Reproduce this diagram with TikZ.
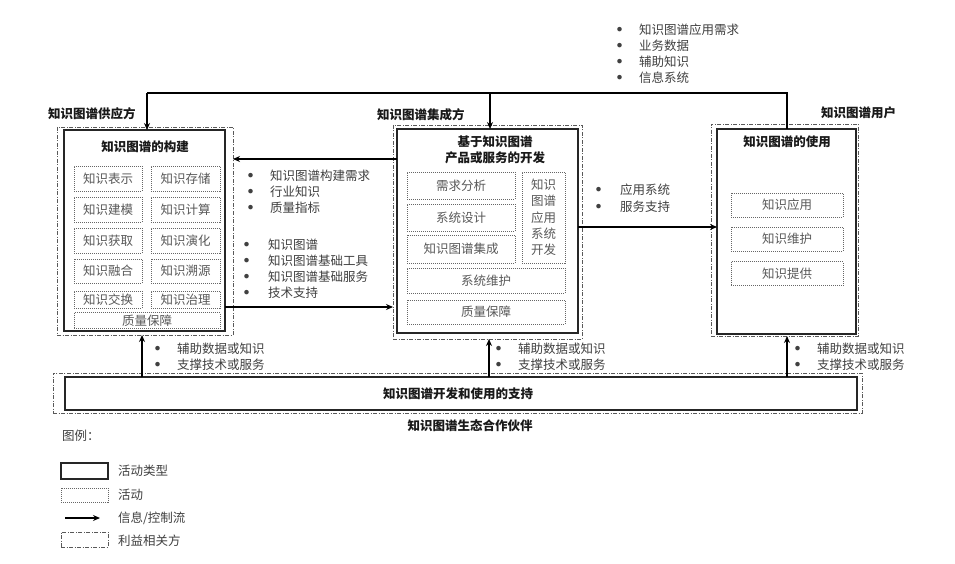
\documentclass[tikz,border=0pt]{standalone}
\usepackage{fontspec}
\newfontfamily\cjk{Noto Sans CJK SC}
\usetikzlibrary{arrows.meta}
\newcommand\mkb[2]{\makebox[#1pt][l]{\raisebox{2.6pt}{\fontsize{5}{5}\selectfont ●}}#2}
\begin{document}
\begin{tikzpicture}[x=1pt,y=-1pt,
  every node/.style={font=\cjk\fontsize{12.5}{16}\selectfont, inner sep=0pt, outer sep=0pt},
  acttype/.style={draw=black!85, line width=1.3pt, rectangle},
  act/.style={draw=black!60, line width=0.9pt, dash pattern=on 1pt off 1pt, text=black!65},
  party/.style={draw=black!65, line width=0.8pt, dash pattern=on 4pt off 1.5pt on 1pt off 1.5pt},
  flow/.style={line width=1.6pt, -{Stealth[length=7pt,width=6pt]}},
  ttl/.style={font=\cjk\bfseries\fontsize{12.5}{16}\selectfont, text=black!90},
  txt/.style={text=black!75, align=left, anchor=north west},
  ]
\fill[white] (0,0) rectangle (955,564);
\useasboundingbox (0,0) rectangle (955,564);

% ---------- supplier ----------
\node[party, minimum width=176, minimum height=208] (supo) at (145,231) {};
\node[acttype, minimum width=161, minimum height=201] (supin) at (144.5,230.5) {};
\node[ttl, anchor=west] (supl) at (48,114) {知识图谱供应方};
\node[ttl] (supt) at (145,147) {知识图谱的构建};
\node[act, minimum width=68, minimum height=25] (s11) at (108,178.5) {知识表示};
\node[act, minimum width=69, minimum height=25] (s12) at (185.5,178.5) {知识存储};
\node[act, minimum width=68, minimum height=25] (s21) at (108,209.5) {知识建模};
\node[act, minimum width=69, minimum height=25] (s22) at (185.5,209.5) {知识计算};
\node[act, minimum width=68, minimum height=25] (s31) at (108,240.5) {知识获取};
\node[act, minimum width=69, minimum height=25] (s32) at (185.5,240.5) {知识演化};
\node[act, minimum width=68, minimum height=24] (s41) at (108,271) {知识融合};
\node[act, minimum width=69, minimum height=24] (s42) at (185.5,271) {知识溯源};
\node[act, minimum width=68, minimum height=17] (s51) at (108,299.5) {知识交换};
\node[act, minimum width=69, minimum height=17] (s52) at (185.5,299.5) {知识治理};
\node[act, minimum width=146, minimum height=16] (s6) at (147,320.5) {质量保障};

% ---------- integrator ----------
\node[party, minimum width=189, minimum height=214] (into) at (487.5,232) {};
\node[acttype, minimum width=181, minimum height=204] (intin) at (487.5,231) {};
\node[ttl, anchor=west] (intl) at (377,115) {知识图谱集成方};
\node[ttl, align=center] (intt) at (495,150) {基于知识图谱\\产品或服务的开发};
\node[act, minimum width=108, minimum height=27] (i1) at (461,185.5) {需求分析};
\node[act, minimum width=108, minimum height=27] (i2) at (461,217.5) {系统设计};
\node[act, minimum width=108, minimum height=28] (i3) at (461,249) {知识图谱集成};
\node[act, minimum width=43, minimum height=91, align=center, font=\cjk\fontsize{12.5}{16.3}\selectfont] (i4) at (543.5,217.5) {知识\\图谱\\应用\\系统\\开发};
\node[act, minimum width=158, minimum height=25] (i5) at (486,280.5) {系统维护};
\node[act, minimum width=158, minimum height=24] (i6) at (486,312) {质量保障};

% ---------- user ----------
\node[party, minimum width=147, minimum height=212] (useo) at (784.5,230) {};
\node[acttype, minimum width=139, minimum height=205] (usein) at (786.5,231.5) {};
\node[ttl, anchor=west] (usel) at (821,113) {知识图谱用户};
\node[ttl] (uset) at (787,142) {知识图谱的使用};
\node[act, minimum width=112, minimum height=24] (u1) at (787,205) {知识应用};
\node[act, minimum width=112, minimum height=24] (u2) at (787,239) {知识维护};
\node[act, minimum width=112, minimum height=24] (u3) at (787,273.5) {知识提供};

% ---------- support ----------
\node[party, minimum width=809, minimum height=40] (supp) at (457.5,393) {};
\node[acttype, minimum width=792, minimum height=33] (suppin) at (461,393.5) {};
\node[ttl] (suppt) at (458,394) {知识图谱开发和使用的支持};
\node[ttl] (suppl) at (470,426) {知识图谱生态合作伙伴};

% ---------- coordinates ----------
\coordinate (ytop) at (0,93);
\coordinate (ya) at (0,159);
\coordinate (yb) at (0,307);
\coordinate (yc) at (0,227);
\coordinate (xs) at (147,0);
\coordinate (xi) at (490,0);
\coordinate (xu) at (787,0);
\coordinate (xbs) at (142,0);
\coordinate (xbi) at (489,0);

% ---------- flows ----------
\draw[line width=1.6pt] (usein.north -| xu) -- (xu |- ytop) -- (xs |- ytop);
\draw[flow] (xs |- ytop) -- (supin.north -| xs);
\draw[flow] (xi |- ytop) -- (intin.north -| xi);
\draw[flow] (intin.west |- ya) -- (supo.east |- ya);
\draw[flow] (supin.east |- yb) -- (into.west |- yb);
\draw[flow] (intin.east |- yc) -- (usein.west |- yc);
\draw[flow] (suppin.north -| xbs) -- (supo.south -| xbs);
\draw[flow] (suppin.north -| xbi) -- (into.south -| xbi);
\draw[flow] (suppin.north -| xu) -- (useo.south -| xu);

% ---------- bullet texts ----------
\node[txt] (btop) at (617,23.5) {\mkb{22}{知识图谱应用需求}\\\mkb{22}{业务数据}\\\mkb{22}{辅助知识}\\\mkb{22}{信息系统}};
\node[txt] (b1) at (248,169.5) {\mkb{22}{知识图谱构建需求}\\\mkb{22}{行业知识}\\\mkb{22}{质量指标}};
\node[txt] (b2) at (244,238.5) {\mkb{24}{知识图谱}\\\mkb{24}{知识图谱基础工具}\\\mkb{24}{知识图谱基础服务}\\\mkb{24}{技术支持}};
\node[txt, font=\cjk\fontsize{12.5}{17}\selectfont] (b3) at (596,183.5) {\mkb{24}{应用系统}\\\mkb{24}{服务支持}};
\node[txt] (b4) at (155,342.5) {\mkb{22}{辅助数据或知识}\\\mkb{22}{支撑技术或服务}};
\node[txt] (b5) at (496,342.5) {\mkb{22}{辅助数据或知识}\\\mkb{22}{支撑技术或服务}};
\node[txt] (b6) at (795,342.5) {\mkb{22}{辅助数据或知识}\\\mkb{22}{支撑技术或服务}};

% ---------- legend ----------
\node[text=black!75, anchor=west] (lgt) at (62,436) {图例：};
\node[acttype, minimum width=47, minimum height=16] (lg1) at (84.5,471) {};
\node[act, minimum width=47, minimum height=14] (lg2) at (84.5,495) {};
\coordinate (lg3a) at (65,518);
\coordinate (lg3b) at (100,518);
\draw[flow] (lg3a) -- (lg3b);
\node[party, minimum width=47, minimum height=15] (lg4) at (84.5,539.5) {};
\node[text=black!75, anchor=west] (lgl1) at (118,471) {活动类型};
\node[text=black!75, anchor=west] (lgl2) at (118,495) {活动};
\node[text=black!75, anchor=west] (lgl3) at (118,518) {信息/控制流};
\node[text=black!75, anchor=west] (lgl4) at (118,541) {利益相关方};
\end{tikzpicture}
\end{document}
